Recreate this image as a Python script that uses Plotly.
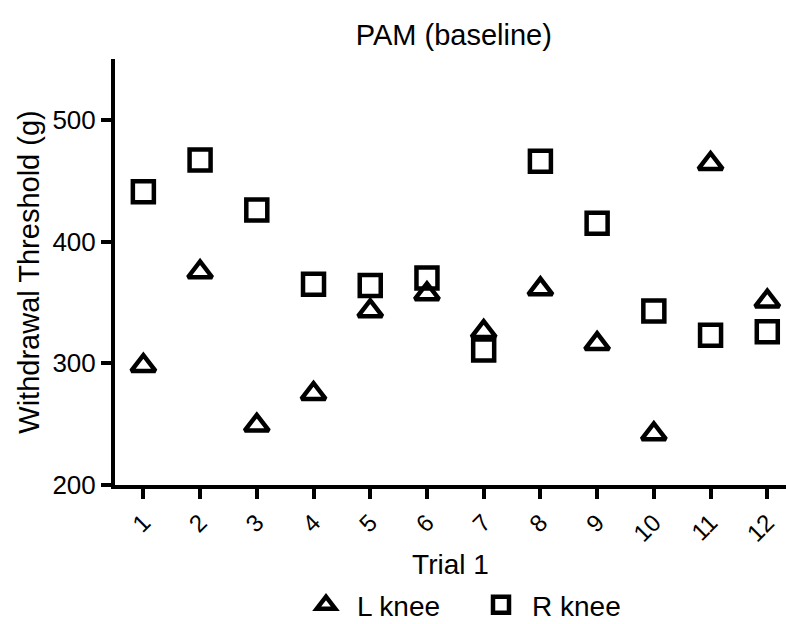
import plotly.graph_objects as go

trials = list(range(1, 13))
tick_labels = [str(t) for t in trials]
l_knee = [298, 375, 249, 275, 343, 357, 326, 361, 316, 242, 464, 351]
r_knee = [441, 467, 426, 365, 364, 370, 311, 466, 415, 343, 323, 326]

FONT = "Liberation Sans, Arial, sans-serif"

fig = go.Figure()
fig.add_trace(go.Scatter(
    x=trials, y=l_knee, mode="markers", name="L knee",
    marker=dict(symbol="triangle-up-open", size=21, color="black",
                line=dict(width=4.5, color="black")),
))
fig.add_trace(go.Scatter(
    x=trials, y=r_knee, mode="markers", name="R knee",
    marker=dict(symbol="square-open", size=21, color="black",
                line=dict(width=4.5, color="black")),
))

fig.update_layout(
    width=786, height=624,
    margin=dict(l=115, r=0, t=59, b=139),
    paper_bgcolor="white", plot_bgcolor="white",
    font=dict(family=FONT, size=26, color="black"),
    title=dict(text="PAM (baseline)", x=0.505, xref="paper", xanchor="center",
               y=1 - 35 / 624, yref="container", yanchor="middle",
               font=dict(family=FONT, size=29, color="black")),
    showlegend=True,
    legend=dict(orientation="h", xref="container", yref="container",
                x=295 / 786, xanchor="left", y=1 - 580 / 624, yanchor="top",
                font=dict(family=FONT, size=28, color="black"),
                itemwidth=52, entrywidth=108, entrywidthmode="pixels",
                itemsizing="trace", bgcolor="rgba(0,0,0,0)"),
    xaxis=dict(
        range=[0.5, 12.33], tickmode="array", tickvals=trials, ticktext=tick_labels,
        tickangle=-45, showgrid=False, zeroline=False, automargin=False,
        showline=True, linecolor="black", linewidth=4,
        ticks="outside", ticklen=10, tickwidth=4, tickcolor="black",
        tickfont=dict(family=FONT, size=24, color="black"),
        title=dict(text="Trial 1", font=dict(family=FONT, size=28, color="black"), standoff=12),
    ),
    yaxis=dict(
        range=[200, 550], tickmode="array", tickvals=[200, 300, 400, 500],
        showgrid=False, zeroline=False, automargin=False,
        showline=True, linecolor="black", linewidth=4,
        ticks="outside", ticklen=10, tickwidth=4, tickcolor="black",
        tickfont=dict(family=FONT, size=26, color="black"),
        title=dict(text="Withdrawal Threshold (g)", font=dict(family=FONT, size=29, color="black"), standoff=5),
    ),
)

fig.write_html("out.html")
